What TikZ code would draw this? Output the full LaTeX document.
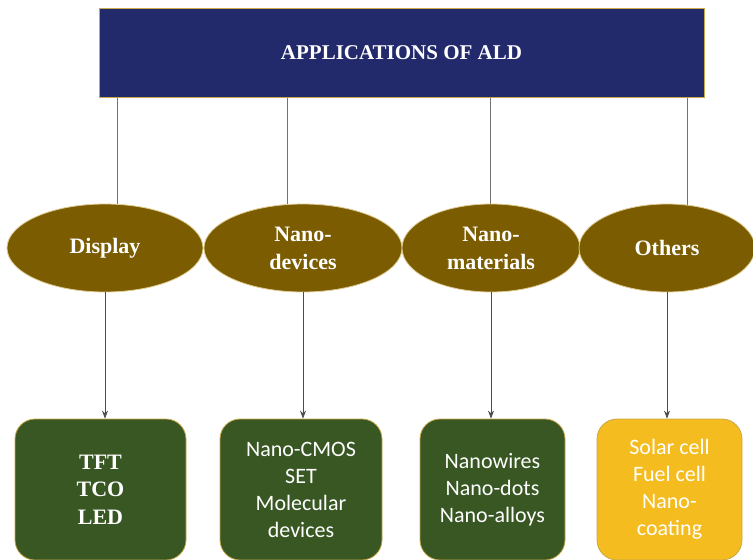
\documentclass[tikz,border=0pt]{standalone}
\usepackage{fontspec}
\setmainfont{Liberation Serif}
\newfontfamily\bodysans{Carlito}
\usetikzlibrary{shapes.geometric,arrows.meta,backgrounds}
\definecolor{navy}{HTML}{222A6B}
\definecolor{bronze}{HTML}{7B5C00}
\definecolor{leaf}{HTML}{385723}
\definecolor{amber}{HTML}{F4BC1F}
\definecolor{rim}{HTML}{C9A84A}
\tikzset{
  titlebox/.style={draw=rim, line width=0.8pt, fill=navy, text=white,
    font=\bfseries\fontsize{21}{24}\selectfont, minimum width=605pt, minimum height=89pt, inner sep=0pt},
  topic/.style={ellipse, draw=rim!60!white, line width=0.8pt, fill=bronze, text=white,
    font=\bfseries\fontsize{22}{28}\selectfont, align=center, inner sep=0pt},
  leafbox/.style={draw=rim, line width=0.8pt, rounded corners=20pt, text=white,
    align=center, inner sep=0pt, minimum height=141pt},
  serifitems/.style={leafbox, fill=leaf, font=\bfseries\fontsize{22}{27.5}\selectfont},
  sansitems/.style={leafbox, font=\bodysans\fontsize{22}{27}\selectfont},
  link/.style={draw=black!55, line width=0.8pt},
  arrowlink/.style={link, -{Stealth[length=8pt,width=6pt]}, draw=black!70}
}
\begin{document}
\begin{tikzpicture}[x=1pt,y=-1pt]
  \useasboundingbox (0,0) rectangle (753,560);

  % heading
  \node[titlebox] (ald) at (401.5,52.5) {APPLICATIONS OF ALD};

  % application areas
  \node[topic, minimum width=196pt, minimum height=88pt] (display) at (105,248) {Display};
  \node[topic, minimum width=198pt, minimum height=88pt] (devices) at (303,248) {Nano-\\devices};
  \node[topic, minimum width=178pt, minimum height=88pt] (materials) at (491,248) {Nano-\\materials};
  \node[topic, minimum width=176pt, minimum height=88pt] (others) at (667,248) {Others};

  % examples in each area
  \node[serifitems, minimum width=171pt] (disp items) at (100.5,489.5) {TFT\\TCO\\LED};
  \node[sansitems, fill=leaf, minimum width=162pt] (dev items) at (301,489.5) {Nano-CMOS\\SET\\Molecular\\devices};
  \node[sansitems, fill=leaf, minimum width=145pt] (mat items) at (492.5,489.5) {Nanowires\\Nano-dots\\Nano-alloys};
  \node[sansitems, fill=amber, minimum width=145pt] (oth items) at (669.5,489.5) {Solar cell\\Fuel cell\\Nano-\\coating};

  % connectors from the heading, behind the ellipses
  \begin{scope}[on background layer]
    \coordinate (t1) at (117,97);
    \coordinate (t2) at (287,97);
    \coordinate (t3) at (490,97);
    \coordinate (t4) at (687,97);
    \draw[link] (t1) -- (t1 |- display.center);
    \draw[link] (t2) -- (t2 |- devices.center);
    \draw[link] (t3) -- (t3 |- materials.center);
    \draw[link] (t4) -- (t4 |- others.center);
  \end{scope}

  % arrows down to the examples
  \draw[arrowlink] (display.south) -- (display.south |- disp items.north);
  \draw[arrowlink] (devices.south) -- (devices.south |- dev items.north);
  \draw[arrowlink] (materials.south) -- (materials.south |- mat items.north);
  \draw[arrowlink] (others.south) -- (others.south |- oth items.north);
\end{tikzpicture}
\end{document}
